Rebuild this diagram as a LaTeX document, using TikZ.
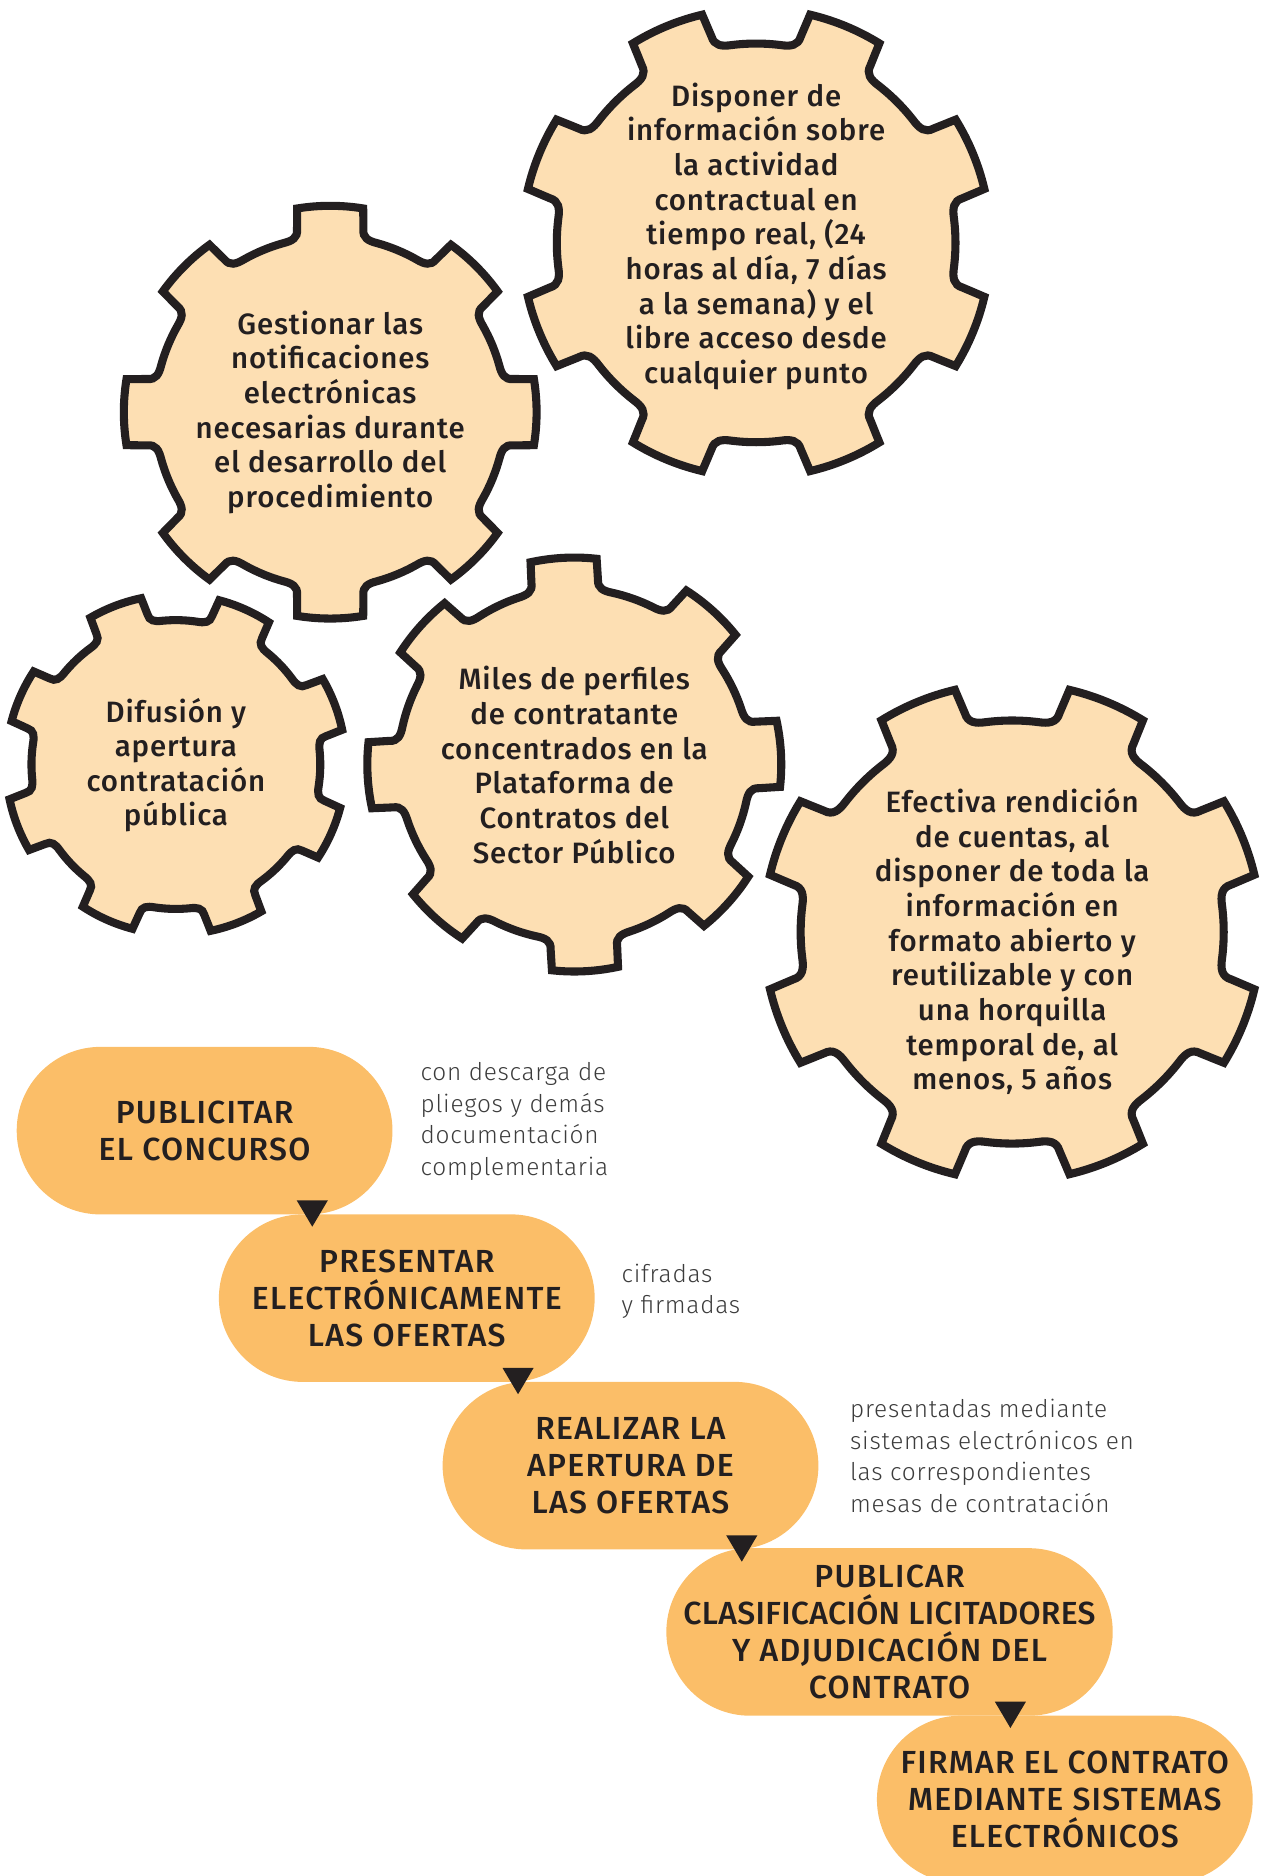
\documentclass[tikz,border=0pt]{standalone}
\usepackage{fontspec}
\setmainfont{Fira Sans}
\newfontfamily\medfont{Fira Sans Medium}[LetterSpace=3]
\newfontfamily\capfont{Fira Sans Medium}[LetterSpace=4]
\newfontfamily\lightfont{Fira Sans Light}[LetterSpace=3]
\usetikzlibrary{calc}
\usetikzlibrary{positioning}
\definecolor{ink}{HTML}{231F20}
\definecolor{cogfill}{HTML}{FDDFB3}
\definecolor{pillfill}{HTML}{FBBE68}
\definecolor{notegray}{HTML}{3C3C3C}
\tikzset{
  cogline/.style={draw=ink,fill=cogfill,line width=4.8pt},
  cogtxt/.style={text=ink,align=center,inner sep=0pt,
    font=\medfont\fontsize{17.5}{20.6}\selectfont},
  pill/.style={rectangle,rounded corners=1.75cm,fill=pillfill,minimum width=7.85cm,
    minimum height=3.5cm,inner sep=0pt,text=ink,align=center,
    font=\capfont\fontsize{19}{22}\selectfont},
  note/.style={inner sep=0pt,align=left,text=notegray,
    font=\lightfont\fontsize{14.5}{18.7}\selectfont},
  pics/cog/.style n args={2}{code={
    \draw[cogline] ({#2-15.5}:{0.85*#1})
      \foreach \a in {0,45,...,315}{
        .. controls ({#2+\a-12.5}:{0.85*#1}) and ({#2+\a-10.5}:{0.86*#1}) .. ({#2+\a-10.3}:{0.9*#1})
        -- ({#2+\a-9.2}:{#1})
        arc[start angle={#2+\a-9.2}, end angle={#2+\a+9.2}, radius={#1}]
        -- ({#2+\a+10.3}:{0.9*#1})
        .. controls ({#2+\a+10.5}:{0.86*#1}) and ({#2+\a+12.5}:{0.85*#1}) .. ({#2+\a+15.5}:{0.85*#1})
        arc[start angle={#2+\a+15.5}, end angle={#2+\a+29.5}, radius={0.85*#1}]
      } -- cycle;
  }}
}
\begin{document}
\begin{tikzpicture}[x=0.025cm,y=0.025cm]
  \clip (0,0) rectangle (1056,-1568);
  \pic at (276,-344.5) {cog={172.5}{0}};
  \pic at (632,-203) {cog={196}{22.5}};
  \pic at (147,-639) {cog={142}{21}};
  \pic at (480,-639) {cog={173}{3}};
  \pic at (846,-779) {cog={208}{22.5}};
  \node[cogtxt] (gestionar) at (276,-344.5) {Gestionar las\\notificaciones\\electrónicas\\necesarias durante\\el desarrollo del\\procedimiento};
  \node[cogtxt] (disponer) at (632,-197.5) {Disponer de\\información sobre\\la actividad\\contractual en\\tiempo real, (24\\horas al día, 7 días\\a la semana) y el\\libre acceso desde\\cualquier punto};
  \node[cogtxt] (difusion) at (147,-639.5) {Difusión y\\apertura\\contratación\\pública};
  \node[cogtxt] (perfiles) at (480,-639.5) {Miles de perfiles\\de contratante\\concentrados en la\\Plataforma de\\Contratos del\\Sector Público};
  \node[cogtxt] (rendicion) at (846,-787) {Efectiva rendición\\de cuentas, al\\disponer de toda la\\información en\\formato abierto y\\reutilizable y con\\una horquilla\\temporal de, al\\menos, 5 años};

  \node[pill] (publicitar) at (171,-945) {PUBLICITAR\\EL CONCURSO};
  \node[pill] (presentar) at (340,-1085) {PRESENTAR\\ELECTRÓNICAMENTE\\LAS OFERTAS};
  \node[pill] (apertura) at (527,-1225) {REALIZAR LA\\APERTURA DE\\LAS OFERTAS};
  \node[pill,minimum width=9.325cm] (adjudicar) at (743.5,-1364) {PUBLICAR\\{\addfontfeature{LetterSpace=1}CLASIFICACIÓN LICITADORES}\\Y ADJUDICACIÓN DEL\\CONTRATO};
  \node[pill] (firmar) at (890,-1504) {FIRMAR EL CONTRATO\\MEDIANTE SISTEMAS\\ELECTRÓNICOS};
  \foreach \a/\dx in {publicitar/90,presentar/93,apertura/93,adjudicar/101}
    \fill[ink] ($(\a.south)+(\dx-13,12)$) -- ++(26,0) -- ++(-13,-22) -- cycle;

  \node[note,anchor=west,right=23 of publicitar,yshift=0.19cm] (descarga) {con descarga de\\pliegos y demás\\documentación\\complementaria};
  \node[note,anchor=west,right=22 of presentar,yshift=0.14cm] (cifradas) {cifradas\\y firmadas};
  \node[note,anchor=west,right=26 of apertura,yshift=0.2cm] (mesas) {presentadas mediante\\sistemas electrónicos en\\las correspondientes\\mesas de contratación};
\end{tikzpicture}
\end{document}
